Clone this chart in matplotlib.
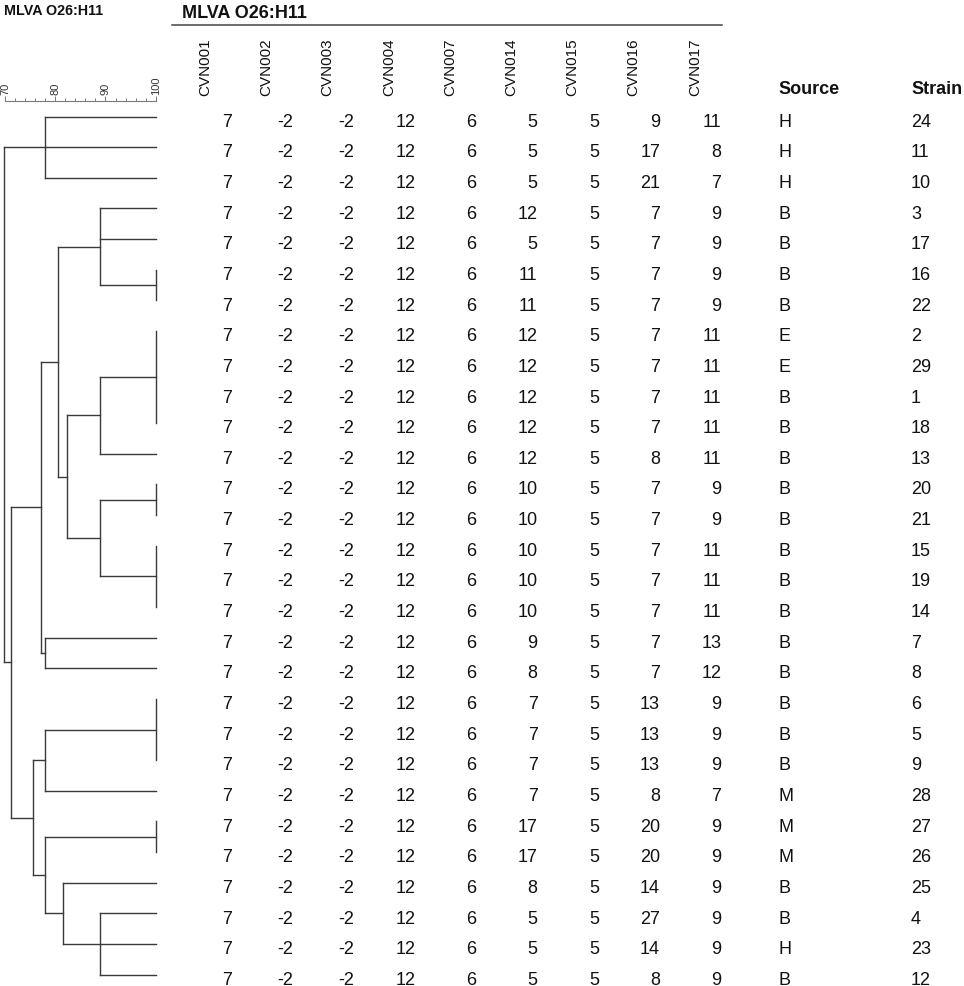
import matplotlib
matplotlib.use('Agg')
import matplotlib.pyplot as plt
from matplotlib.collections import LineCollection

plt.rcParams['font.family'] = ['Liberation Sans', 'DejaVu Sans']

W, H = 964, 987

LOCI = ['CVN001', 'CVN002', 'CVN003', 'CVN004', 'CVN007',
        'CVN014', 'CVN015', 'CVN016', 'CVN017']

cvn001 = [7] * 29
cvn002 = [-2] * 29
cvn003 = [-2] * 29
cvn004 = [12] * 29
cvn007 = [6] * 29
cvn014 = [5, 5, 5, 12, 5, 11, 11, 12, 12, 12, 12, 12, 10, 10, 10, 10, 10,
          9, 8, 7, 7, 7, 7, 17, 17, 8, 5, 5, 5]
cvn015 = [5] * 29
cvn016 = [9, 17, 21, 7, 7, 7, 7, 7, 7, 7, 7, 8, 7, 7, 7, 7, 7,
          7, 7, 13, 13, 13, 8, 20, 20, 14, 27, 14, 8]
cvn017 = [11, 8, 7, 9, 9, 9, 9, 11, 11, 11, 11, 11, 9, 9, 11, 11, 11,
          13, 12, 9, 9, 9, 7, 9, 9, 9, 9, 9, 9]
source = ['H', 'H', 'H', 'B', 'B', 'B', 'B', 'E', 'E', 'B', 'B', 'B', 'B', 'B',
          'B', 'B', 'B', 'B', 'B', 'B', 'B', 'B', 'M', 'M', 'M', 'B', 'B', 'H', 'B']
strain = [24, 11, 10, 3, 17, 16, 22, 2, 29, 1, 18, 13, 20, 21, 15, 19, 14,
          7, 8, 6, 5, 9, 28, 27, 26, 25, 4, 23, 12]

# dendrogram merges: node id = 29 + index, (children, similarity %)
merges = [
    ((5, 6), 100.0),            # 29
    ((3, 4, 29), 88.9),         # 30
    ((7, 8, 9, 10), 100.0),     # 31
    ((31, 11), 88.9),           # 32
    ((12, 13), 100.0),          # 33
    ((14, 15, 16), 100.0),      # 34
    ((33, 34), 88.9),           # 35
    ((32, 35), 82.3),           # 36
    ((30, 36), 80.5),           # 37
    ((17, 18), 77.9),           # 38
    ((37, 38), 77.2),           # 39
    ((19, 20, 21), 100.0),      # 40
    ((40, 22), 77.9),           # 41
    ((23, 24), 100.0),          # 42
    ((26, 27, 28), 88.9),       # 43
    ((25, 43), 81.6),           # 44
    ((42, 44), 77.9),           # 45
    ((41, 45), 75.6),           # 46
    ((39, 46), 71.1),           # 47
    ((0, 1, 2), 77.9),          # 48
    ((48, 47), 69.9),           # 49
]

scale_ticks = [70, 80, 90, 100]

TITLE = 'MLVA O26:H11'

# layout (pixels)
ROW0 = 117.5
STEP = 30.65
SCALE_Y = 101.7
X70, X100 = 5.0, 155.7
TXT_BASE0 = 126.7
COL_RIGHT0 = 231.7
COL_STEP = 61.2
HEAD_X0 = 205.3
SRC_X = 778
STR_X = 911
INK = '#111111'


def px(y):
    return 1 - y / H


fig = plt.figure(figsize=(W / 100, H / 100), dpi=100)

# ---- dendrogram axes (x = similarity, y = row index)
ax_d = fig.add_axes([X70 / W, 0, (X100 - X70) / W, px(SCALE_Y)])
ax_d.set_xlim(70, 100)
ax_d.set_ylim((H - ROW0) / STEP, (SCALE_Y - ROW0) / STEP)
for s in ['left', 'right', 'bottom']:
    ax_d.spines[s].set_visible(False)
ax_d.spines['top'].set_color('#7a7a7a')
ax_d.spines['top'].set_linewidth(0.8)
ax_d.set_yticks([])
ax_d.xaxis.tick_top()
ax_d.set_xticks(scale_ticks)
ax_d.set_xticks(range(72, 100, 2), minor=True)
ax_d.tick_params(axis='x', which='major', direction='out', length=3.6, width=0.7,
                 color='#7a7a7a', pad=1, labelsize=8, labelcolor='#333333',
                 labelrotation=90)
ax_d.tick_params(axis='x', which='minor', direction='out', length=2.0, width=0.7,
                 color='#7a7a7a')
ax_d.patch.set_alpha(0)

ypos = {i: float(i) for i in range(len(strain))}
xpos = {i: 100.0 for i in range(len(strain))}
segs = []
for k, (children, sim) in enumerate(merges):
    node = len(strain) + k
    ys = [ypos[c] for c in children]
    segs.append([(sim, min(ys)), (sim, max(ys))])
    for c in children:
        if xpos[c] != sim:
            segs.append([(xpos[c], ypos[c]), (sim, ypos[c])])
    ypos[node] = (min(ys) + max(ys)) / 2
    xpos[node] = sim
lc = LineCollection(segs, colors='#3a3a3a', linewidths=1.0, clip_on=False,
                    capstyle='projecting')
ax_d.add_collection(lc)

# ---- text / table axes in pixel coordinates
ax = fig.add_axes([0, 0, 1, 1])
ax.set_xlim(0, W)
ax.set_ylim(H, 0)
ax.axis('off')
ax.patch.set_alpha(0)

ax.text(4, 15, TITLE, fontsize=10.3, fontweight='bold', color=INK,
        ha='left', va='baseline')
ax.text(181.7, 18.5, TITLE, fontsize=13, fontweight='bold', color=INK,
        ha='left', va='baseline')
ax.plot([171.7, 721.7], [25.5, 25.5], color='#444444', lw=1.1)

columns = [cvn001, cvn002, cvn003, cvn004, cvn007, cvn014, cvn015, cvn016, cvn017]
for j, name in enumerate(LOCI):
    ax.text(HEAD_X0 + COL_STEP * j, 96, name, fontsize=11, rotation=90,
            ha='center', va='bottom', color=INK)
    for i, v in enumerate(columns[j]):
        ax.text(COL_RIGHT0 + COL_STEP * j, TXT_BASE0 + STEP * i, str(v),
                fontsize=13, ha='right', va='baseline', color=INK)

ax.text(SRC_X, 93.5, 'Source', fontsize=13, fontweight='bold', color=INK,
        ha='left', va='baseline')
ax.text(STR_X, 93.5, 'Strain', fontsize=13, fontweight='bold', color=INK,
        ha='left', va='baseline')
for i, (src, st) in enumerate(zip(source, strain)):
    y = TXT_BASE0 + STEP * i
    ax.text(SRC_X, y, src, fontsize=13, ha='left', va='baseline', color=INK)
    ax.text(STR_X, y, str(st), fontsize=13, ha='left', va='baseline', color=INK)

fig.savefig('out.png', dpi=100)
